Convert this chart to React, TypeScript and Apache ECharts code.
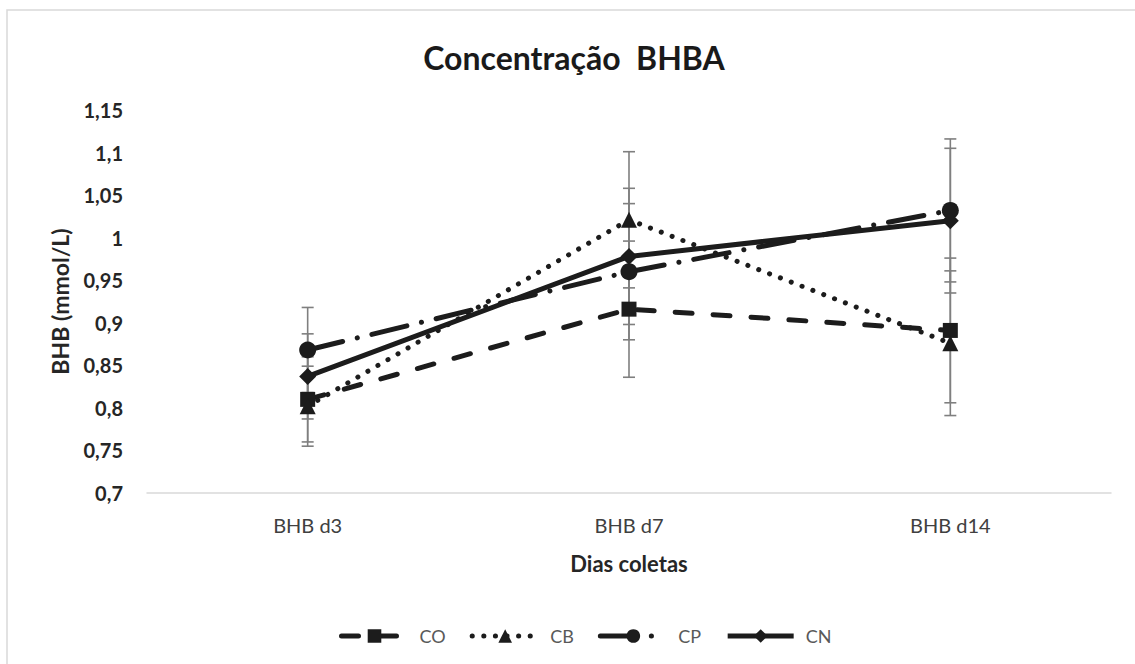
import React, { useEffect, useRef } from "react";
import * as echarts from "echarts";

const categories = ["BHB d3", "BHB d7", "BHB d14"];
const seriesNames = ["CO", "CB", "CP", "CN"];
const coValues = [0.81, 0.916, 0.891];
const cbValues = [0.802, 1.021, 0.876];
const cpValues = [0.868, 0.96, 1.032];
const cnValues = [0.837, 0.978, 1.02];
const coErrors = [0.05, 0.08, 0.085];
const cbErrors = [0.047, 0.08, 0.085];
const cpErrors = [0.05, 0.08, 0.084];
const cnErrors = [0.05, 0.08, 0.085];
const yTicks = { min: 0.7, max: 1.15, interval: 0.05 };

const FONT = "Lato, 'Open Sans', sans-serif";
const LINE = "#1c1c1c";

export default function App() {
  const ref = useRef<HTMLDivElement>(null);
  useEffect(() => {
    if (!ref.current) return;
    const chart = echarts.init(ref.current, null, { renderer: "svg" });

    const values = [coValues, cbValues, cpValues, cnValues];
    const errors = [coErrors, cbErrors, cpErrors, cnErrors];
    const symbols = ["rect", "triangle", "circle", "diamond"];
    const symbolSizes = [15, 16, 17, 17];
    const dashes: any[] = [[17, 21], [0.1, 11.5], [36, 15, 0.1, 15], "solid"];
    const W = 5;

    const errorSeries = values.map((vals, si) => ({
      type: "custom",
      name: seriesNames[si] + "_err",
      z: 1,
      silent: true,
      data: vals.map((v, i) => [i, v - errors[si][i], v + errors[si][i]]),
      renderItem: (params: any, api: any) => {
        const lo = api.coord([api.value(0), api.value(1)]);
        const hi = api.coord([api.value(0), api.value(2)]);
        const w = 6;
        const st = { stroke: "#7f7f7f", lineWidth: 1.6 };
        return {
          type: "group",
          children: [
            { type: "line", shape: { x1: lo[0], y1: lo[1], x2: hi[0], y2: hi[1] }, style: st },
            { type: "line", shape: { x1: lo[0] - w, y1: lo[1], x2: lo[0] + w, y2: lo[1] }, style: st },
            { type: "line", shape: { x1: hi[0] - w, y1: hi[1], x2: hi[0] + w, y2: hi[1] }, style: st },
          ],
        };
      },
    }));

    const lineSeries = values.map((vals, si) => ({
      type: "line",
      name: seriesNames[si],
      z: 3,
      data: vals,
      symbol: symbols[si],
      symbolSize: symbolSizes[si],
      showAllSymbol: true,
      itemStyle: { color: LINE, borderWidth: 0 },
      lineStyle: {
        color: LINE,
        width: W,
        type: dashes[si],
        cap: si === 3 ? "butt" : "round",
        join: "round",
      },
    }));

    chart.setOption({
      animation: false,
      backgroundColor: "#ffffff",
      graphic: [
        {
          type: "rect",
          shape: { x: 7, y: 10, width: 1150, height: 680 },
          style: { fill: "none", stroke: "#d9d9d9", lineWidth: 1.5 },
          silent: true,
          z: -10,
        },
        {
          type: "text",
          x: 574,
          y: 57,
          style: {
            text: "Concentração  BHBA",
            font: `bold 32px ${FONT}`,
            fill: "#1a1a1a",
            textAlign: "center",
            textVerticalAlign: "middle",
          },
        },
      ],
      grid: { left: 147, right: 24, top: 110, bottom: 171 },
      legend: {
        data: seriesNames,
        left: 334,
        top: 622,
        itemWidth: 66,
        itemHeight: 17,
        itemGap: 24,
        lineStyle: { width: W },
        textStyle: { fontFamily: FONT, fontSize: 18, color: "#595959", padding: [0, 0, 0, 7] },
      },
      xAxis: {
        type: "category",
        data: categories,
        boundaryGap: true,
        axisLine: { show: true, lineStyle: { color: "#d9d9d9", width: 1.5 } },
        axisTick: { show: false },
        axisLabel: { margin: 22, fontFamily: FONT, fontSize: 20, color: "#404040" },
        name: "Dias coletas",
        nameLocation: "middle",
        nameGap: 59,
        nameTextStyle: { fontFamily: FONT, fontSize: 22, fontWeight: "bold", color: "#262626" },
      },
      yAxis: {
        type: "value",
        min: yTicks.min,
        max: yTicks.max,
        interval: yTicks.interval,
        splitLine: { show: false },
        axisLine: { show: false },
        axisTick: { show: false },
        axisLabel: {
          margin: 24,
          fontFamily: FONT,
          fontSize: 20,
          fontWeight: "bold",
          color: "#262626",
          formatter: (v: number) => String(Math.round(v * 100) / 100).replace(".", ","),
        },
        name: "BHB (mmol/L)",
        nameLocation: "middle",
        nameRotate: 90,
        nameGap: 76,
        nameTextStyle: { fontFamily: FONT, fontSize: 23, fontWeight: "bold", color: "#262626" },
      },
      series: [...errorSeries, ...lineSeries],
    });
    return () => chart.dispose();
  }, []);
  return (
    <div
      ref={ref}
      style={{ position: "absolute", left: 0, top: 0, width: 1135, height: 664, background: "#fff" }}
    />
  );
}
